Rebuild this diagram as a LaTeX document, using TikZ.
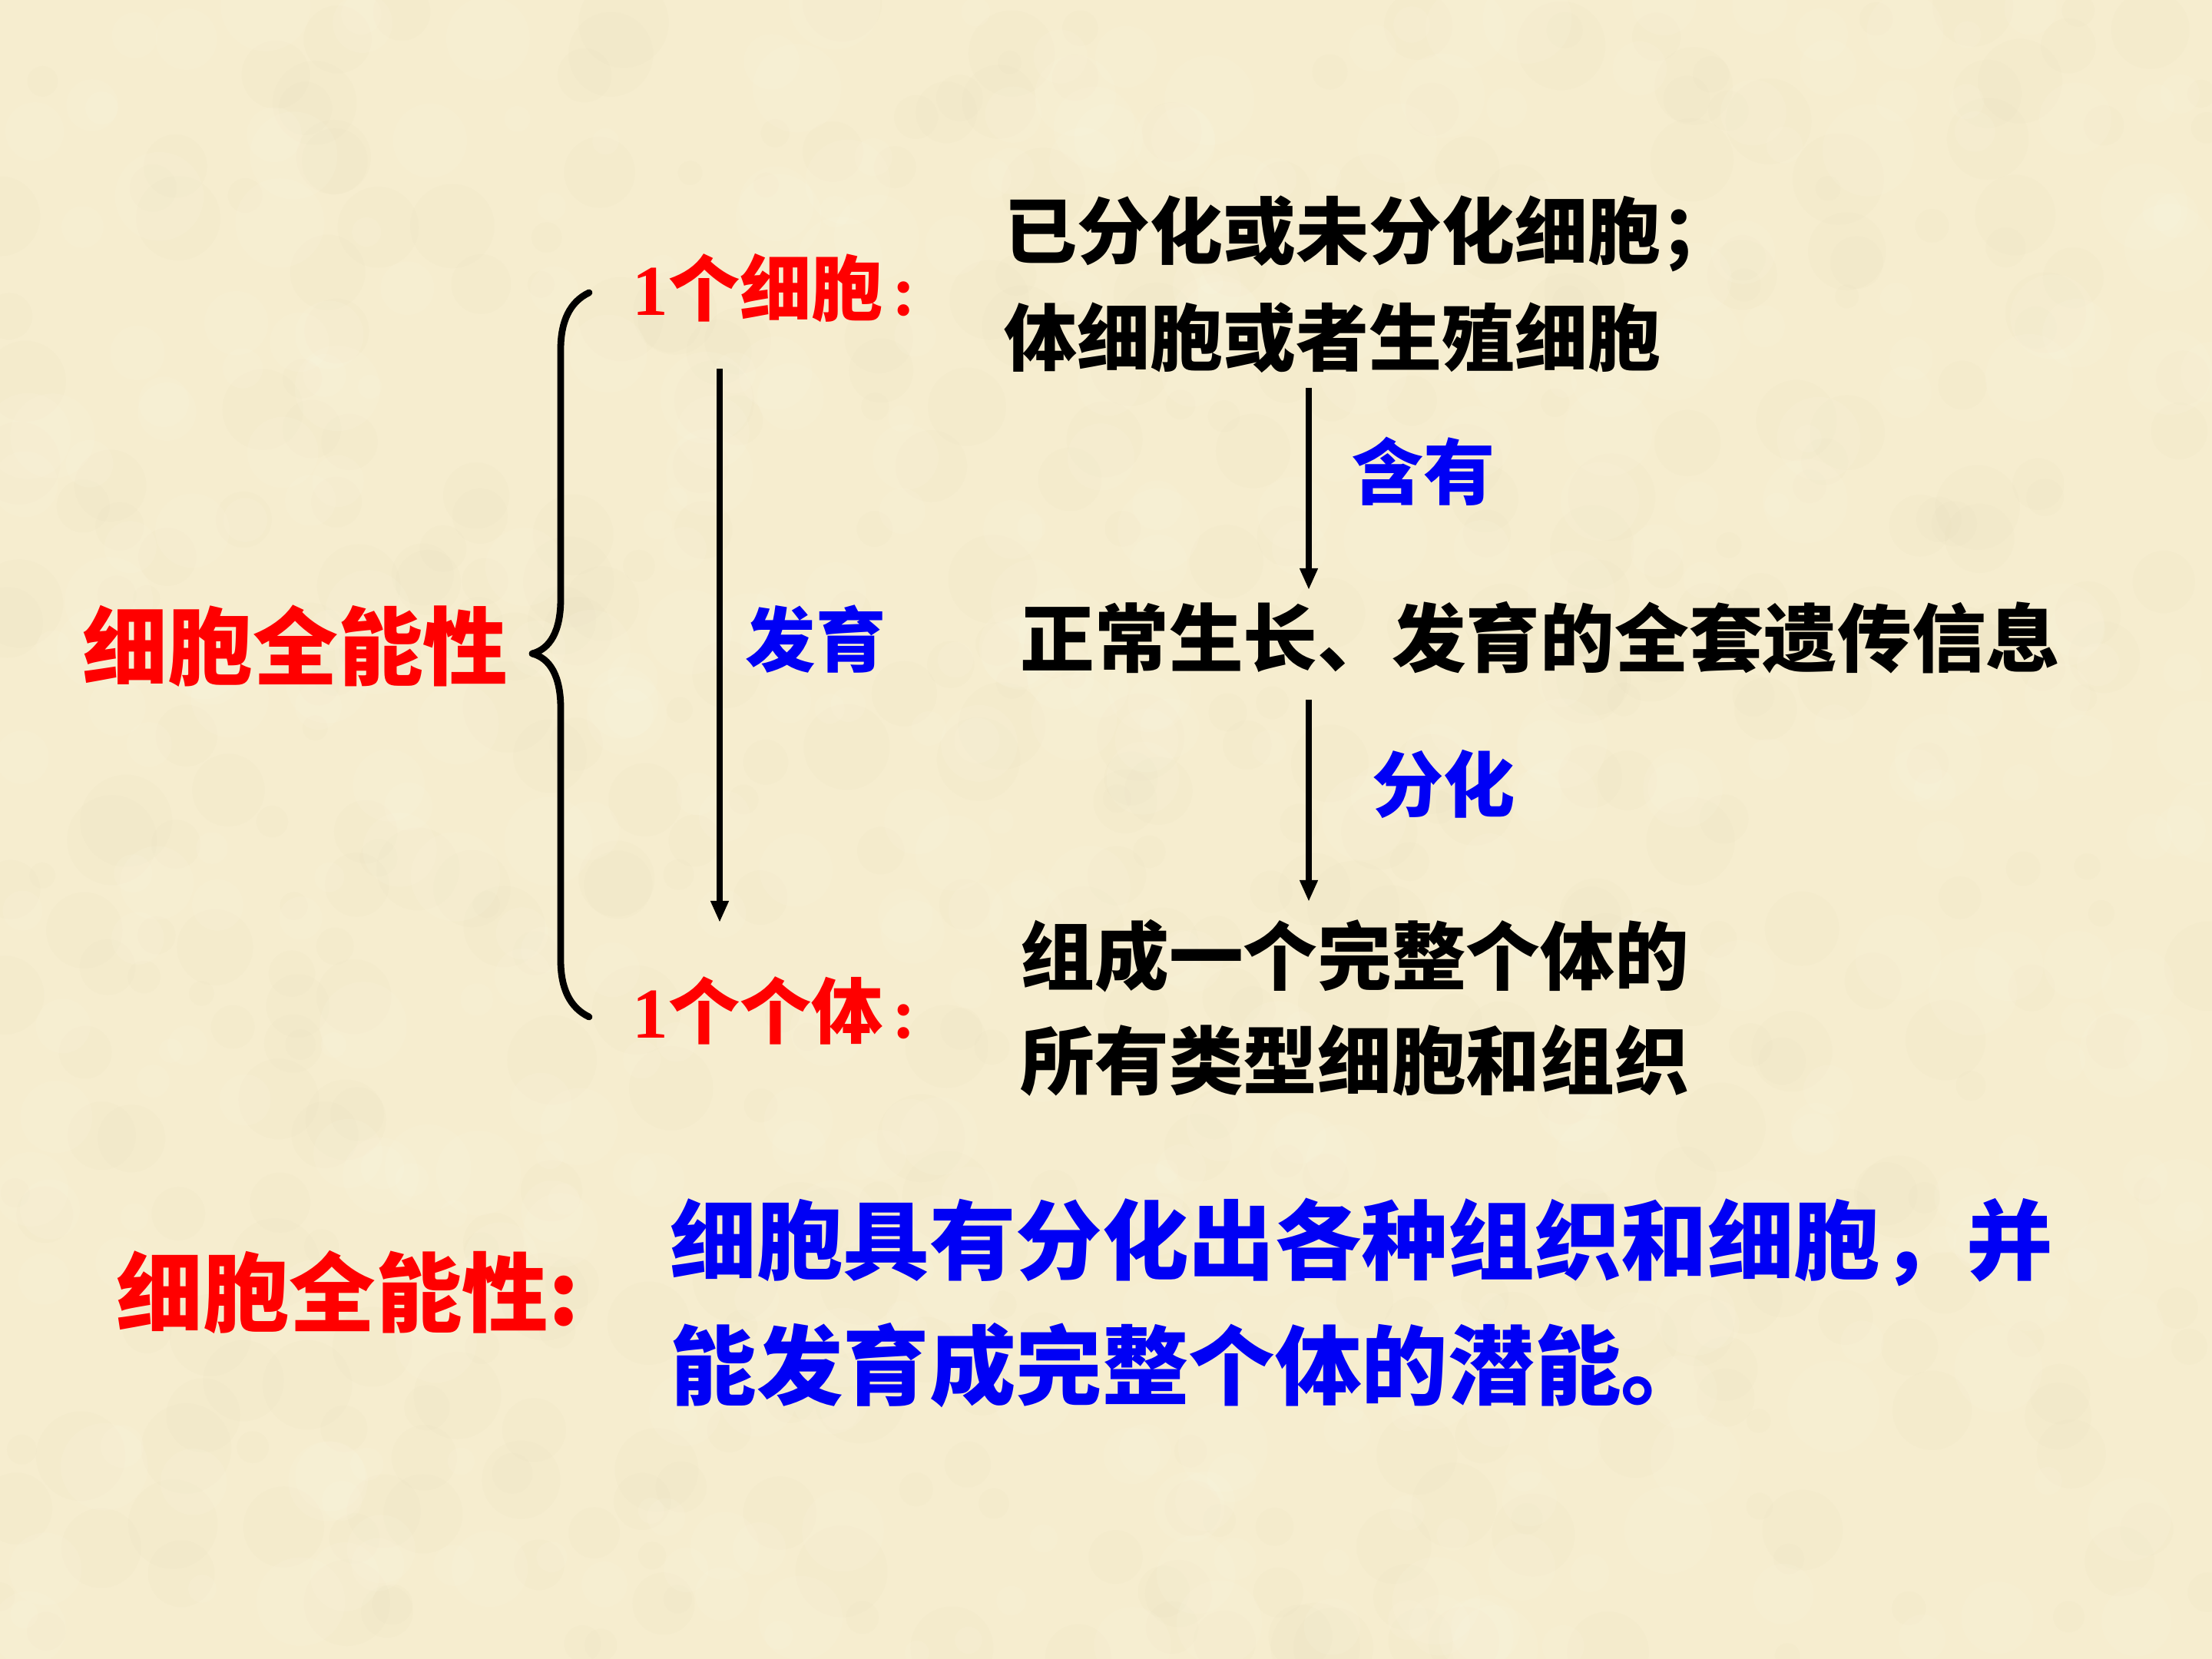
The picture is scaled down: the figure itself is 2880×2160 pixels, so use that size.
\documentclass[tikz,border=0pt]{standalone}
\usepackage{fontspec}
\newfontfamily\cjk{Noto Sans CJK SC}
\newfontfamily\serifb{Liberation Serif}
\usetikzlibrary{arrows.meta}
\definecolor{bgcol}{RGB}{246,237,207}
\definecolor{bgdark}{RGB}{230,220,186}
\definecolor{bglight}{RGB}{253,248,228}
\definecolor{redc}{RGB}{255,0,0}
\definecolor{bluec}{RGB}{0,0,245}
\tikzset{
  txt/.style={inner sep=0pt, anchor=west, font=\cjk\bfseries},
  redtxt/.style={txt, text=redc},
  bluetxt/.style={txt, text=bluec},
  blacktxt/.style={txt, text=black},
  arr/.style={line width=2.5pt, -{Triangle[length=0.28cm,width=0.22cm]}},
  bracepath/.style={line width=2.5pt, line cap=round, line join=round}
}
\newcommand{\fsz}[1]{\fontsize{#1}{#1}\selectfont}
\begin{document}
\begin{tikzpicture}[x=0.01cm,y=-0.01cm]
\useasboundingbox (0,0) rectangle (2880,2160);
\fill[bgcol] (0,0) rectangle (2880,2160);
% subtle parchment texture
\pgfmathsetseed{7}
\foreach \i in {1,...,500}{
  \pgfmathsetmacro{\px}{rnd*2880}
  \pgfmathsetmacro{\py}{rnd*2160}
  \pgfmathsetmacro{\pr}{15+rnd*45}
  \fill[bgdark, opacity=0.10] (\px,\py) circle[radius=\pr];
}
\foreach \i in {1,...,500}{
  \pgfmathsetmacro{\px}{rnd*2880}
  \pgfmathsetmacro{\py}{rnd*2160}
  \pgfmathsetmacro{\pr}{15+rnd*45}
  \fill[bglight, opacity=0.14] (\px,\py) circle[radius=\pr];
}

% left title
\node[redtxt, font=\cjk\bfseries\fsz{31.5pt}] (title) at (107,841) {细胞全能性};

% brace
\draw[bracepath] (767,381) .. controls (742,393) and (730,418) .. (730,455)
  -- (730,780) .. controls (730,822) and (716,845) .. (693,851)
  .. controls (716,857) and (730,880) .. (730,922)
  -- (730,1250) .. controls (730,1287) and (742,1312) .. (767,1324);

% one cell / one individual
\node[redtxt, font=\cjk\bfseries\fsz{26.5pt}] (cell) at (823,375) {{\serifb\bfseries 1}个细胞\hspace{0.12em}{\serifb\bfseries :}};
\node[redtxt, font=\cjk\bfseries\fsz{26.5pt}] (indiv) at (823,1316) {{\serifb\bfseries 1}个个体\hspace{0.12em}{\serifb\bfseries :}};

\coordinate (la) at (937,480);
\coordinate (lb) at (937,1201);
\draw[arr] (la) -- (lb);
\node[bluetxt, font=\cjk\bfseries\fsz{26pt}] (fayu) at (970,832) {发育};

% right column
\node[blacktxt, font=\cjk\bfseries\fsz{27pt}] (t1) at (1307,304) {已分化或未分化细胞；};
\node[blacktxt, font=\cjk\bfseries\fsz{27pt}] (t2) at (1307,440) {体细胞或者生殖细胞};
\node[blacktxt, font=\cjk\bfseries\fsz{27.5pt}] (t3) at (1328,830) {正常生长、发育的全套遗传信息};
\node[blacktxt, font=\cjk\bfseries\fsz{27.5pt}] (t4) at (1328,1245) {组成一个完整个体的};
\node[blacktxt, font=\cjk\bfseries\fsz{27.5pt}] (t5) at (1328,1381) {所有类型细胞和组织};

\coordinate (a1s) at (1704,505);
\coordinate (a1e) at (1704,768);
\coordinate (a2s) at (1704,911);
\coordinate (a2e) at (1704,1174);
\draw[arr] (a1s) -- (a1e);
\draw[arr] (a2s) -- (a2e);
\node[bluetxt, font=\cjk\bfseries\fsz{26.5pt}] (hanyou) at (1760,614) {含有};
\node[bluetxt, font=\cjk\bfseries\fsz{26.5pt}] (fenhua) at (1786,1021) {分化};

% definition
\node[redtxt, font=\cjk\bfseries\fsz{32pt}] (deft) at (151,1682) {细胞全能性:};
\node[bluetxt, font=\cjk\bfseries\fsz{32pt}] (d1) at (872,1617) {细胞具有分化出各种组织和细胞，并};
\node[bluetxt, font=\cjk\bfseries\fsz{32pt}] (d2) at (872,1778) {能发育成完整个体的潜能。};
\end{tikzpicture}
\end{document}
